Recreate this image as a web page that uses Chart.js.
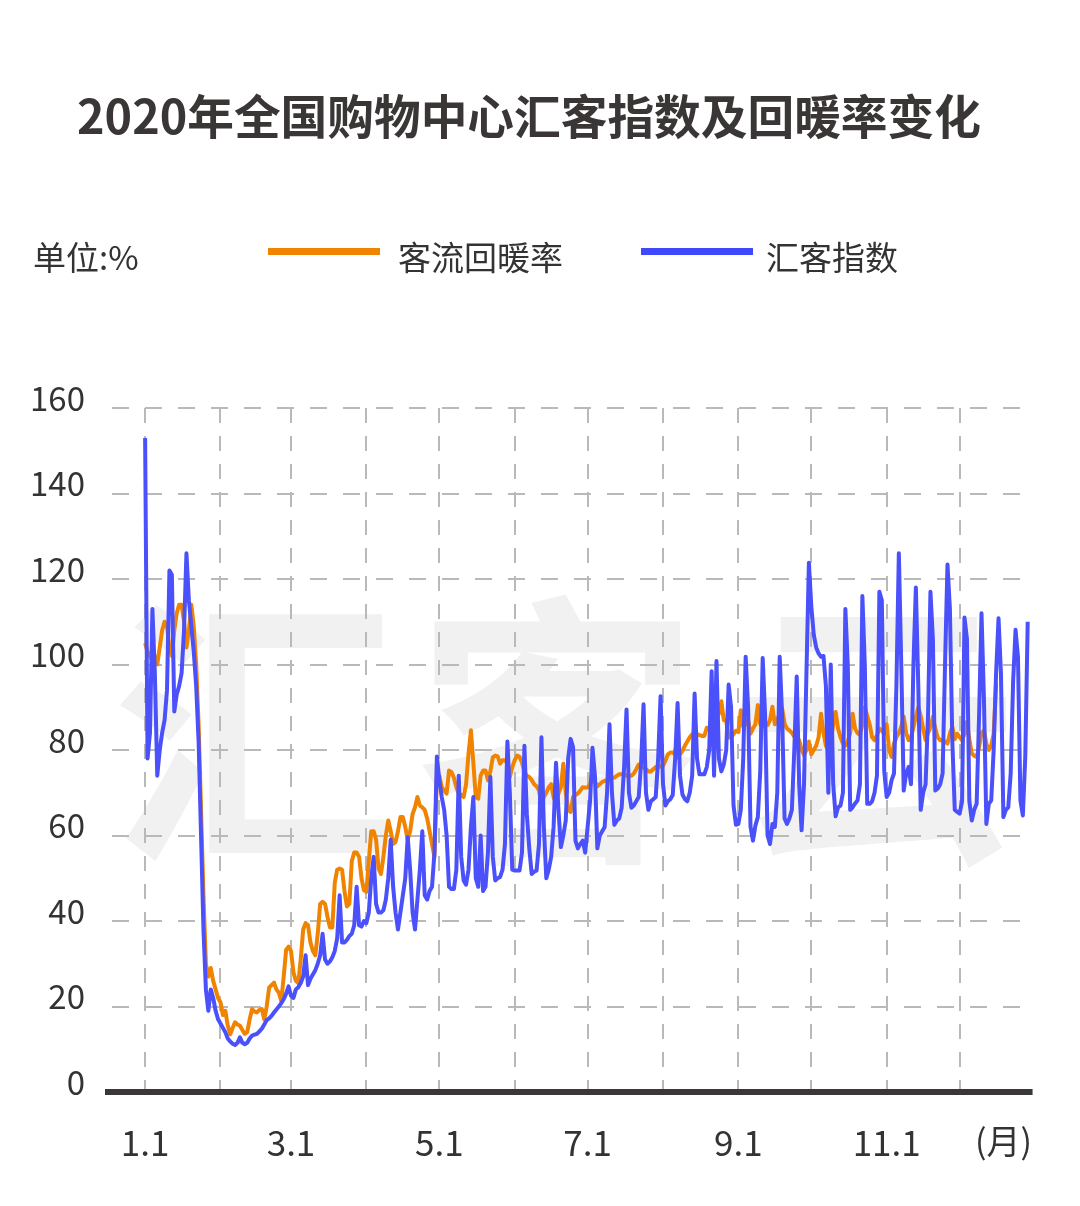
<!DOCTYPE html>
<html>
<head>
<meta charset="utf-8">
<script src="https://cdn.jsdelivr.net/npm/chart.js@4.4.1/dist/chart.umd.min.js"></script>
<style>
html, body { margin: 0; padding: 0; background: #fff; }
#wrap { position: relative; width: 1080px; height: 1206px; overflow: hidden;
        font-family: "Noto Sans CJK SC", "Noto Sans", sans-serif; color: #333; }
#c { position: absolute; left: 0; top: 0; }
.t { position: absolute; white-space: nowrap; }
#title { left: 0; width: 1058px; top: 85px; text-align: center; font-size: 46.7px;
         font-weight: bold; color: #3b3636; line-height: 58px; }
.lg { font-size: 33px; line-height: 40px; top: 236px; color: #333; }
.bar { position: absolute; top: 248px; width: 112px; height: 7px; }
#month { left: 975px; top: 1119px; font-size: 34px; line-height: 42px; color: #333; }
</style>
</head>
<body>
<div id="wrap">
  <canvas id="c" width="1080" height="1206"></canvas>
  <div class="t" id="title">2020年全国购物中心汇客指数及回暖率变化</div>
  <div class="t lg" style="left:33px">单位:%</div>
  <div class="bar" style="left:268px;background:#f08300"></div>
  <div class="t lg" style="left:398px">客流回暖率</div>
  <div class="bar" style="left:641px;background:#4048fc"></div>
  <div class="t lg" style="left:766px">汇客指数</div>
  <div class="t" id="month">(月)</div>
</div>
<script>
// 汇客指数, daily from 1.1
var huikeJan = [153, 78, 84, 113, 98, 74, 80, 84, 87, 94, 122, 121, 89, 93, 95, 98, 108, 126, 115, 109, 103, 95, 82, 60, 38, 24, 19, 24, 22, 19, 17];
var huikeFeb = [16, 15, 14, 12.5, 11.8, 11.3, 11, 11.5, 12.8, 11.5, 11.2, 11.5, 12.5, 13.2, 13.4, 13.6, 14.2, 14.8, 15.8, 16.8, 17.2, 17.8, 18.6, 19.3, 20, 20.8, 21.7, 23, 24.7];
var huikeMar = [22.5, 22, 24, 24.5, 25.5, 27, 32, 25, 26.5, 27.5, 28.5, 30, 32, 37, 31, 30, 30.5, 31.5, 33, 36, 46, 35, 35, 35.6, 36.5, 37, 39, 48, 39, 38.7, 40];
var huikeApr = [39.5, 42, 50, 55, 44, 42, 42, 42.5, 45, 50, 59, 48, 42, 38, 42, 46, 50, 59.6, 52, 42, 38, 45, 52, 61, 46, 45, 47, 48, 56, 78.5];
var huikeMay = [73, 69, 66, 60, 48, 47.5, 47.5, 52, 74, 55, 49.5, 48.5, 52, 62, 69, 50, 48, 60, 47, 48, 56, 73.7, 55, 49.5, 50, 50.3, 52, 58, 82, 70, 52];
var huikeJun = [51.8, 51.8, 51.8, 56, 81, 65, 57, 51, 51.5, 51.8, 58, 83, 62, 50, 52, 55, 62, 77, 66, 57.3, 60, 63.5, 78, 82.6, 80.7, 58.8, 57, 58, 58.8, 56];
var huikeJul = [62, 68, 80.5, 74, 57, 60, 61, 62, 70, 86, 70, 62.5, 63.5, 64, 66.5, 76, 89.5, 70, 66.5, 67, 68, 69, 77, 90.7, 70, 66, 68, 68.5, 69, 78, 92.6];
var huikeAug = [72, 67, 68, 68.5, 69.5, 78, 91, 74, 69.6, 68.5, 68, 70, 74, 93.2, 78, 74.3, 74.3, 74.3, 76, 80, 98.4, 74, 100.8, 78, 75, 76.6, 80, 95.3, 90, 67, 62.5];
var huikeSep = [62.7, 66, 78, 101.8, 90, 62, 58.8, 62.3, 64.3, 75, 101.5, 88, 60, 58, 62.7, 62, 70, 101.8, 88, 64, 62.7, 64, 66, 80, 97.2, 72, 61.2, 72, 98, 123.8];
var huikeOct = [113.6, 107, 104, 102.6, 101.8, 102, 95, 70, 100, 72, 64.5, 66.6, 67, 70, 113, 100, 66, 66.6, 67.5, 68.2, 72, 116, 100, 67.4, 67.4, 68, 70, 74, 117, 115, 75];
var huikeNov = [69, 70, 72.9, 74.5, 95, 126, 100, 70.5, 74.5, 76, 72, 100, 118, 95, 66, 70, 72, 88, 117, 106, 70.5, 71, 72, 74.5, 100, 123.4, 113, 82, 66, 65.5];
var huikeDec = [65.1, 68, 111, 106, 68, 63.5, 66, 67.4, 88, 112, 92, 62.7, 67.4, 68.2, 80, 98, 110.8, 97.9, 64.3, 66, 66.6, 74.5, 96, 108.1, 101.8, 68.2, 64.7, 78.4, 110];

// 客流回暖率, daily from 1.1
var rateJan = [105, 103, 102, 101, 102, 100, 104, 108, 110, 109, 104, 102, 108, 112, 114, 114, 110, 104, 108, 114, 109, 100, 86, 66, 46, 30, 27, 29, 26, 24, 22];
var rateFeb = [21, 18, 19, 15.5, 13.5, 15, 16.3, 15.8, 15.5, 14.5, 13.6, 14, 17, 19.4, 18.8, 18.6, 19.2, 19.4, 17, 20, 24.4, 25, 25.6, 24, 23.3, 21.3, 27, 33.3, 34];
var rateMar = [33, 28, 26, 25.5, 31, 38, 39.5, 39, 35, 33, 32, 37, 44, 44.5, 44, 41, 38.5, 38.5, 49, 52, 52.3, 52, 47, 43.4, 44, 54, 56, 56, 55, 50, 47.2];
var rateApr = [46.8, 54, 61, 61, 59, 52.3, 51, 55, 60, 63.5, 61, 58, 58.5, 61, 64.3, 64.3, 62, 59, 61, 65, 66.6, 69, 67, 66.6, 66, 64, 61, 58, 55, 74];
var rateMay = [74, 71.3, 70.5, 69.8, 75.2, 74.8, 73.5, 71.3, 69.8, 69.5, 69, 72, 79, 84.6, 77, 69, 68.6, 74, 75.2, 75.2, 72.9, 75, 78.3, 78.7, 78.5, 76.8, 77.6, 77.6, 77, 73.7, 76];
var rateJun = [77.6, 78.7, 78.4, 77, 74.8, 74, 73.7, 73, 72, 71.5, 70.5, 67.4, 69, 70, 71.3, 72, 69, 67.4, 69.8, 71.3, 76.8, 70, 66, 65.5, 69, 69.5, 69.8, 70.5, 71.3, 71.2];
var rateJul = [71.2, 72, 73.5, 72.5, 71.5, 72, 72.5, 72.8, 73, 73.5, 73.5, 73.5, 74, 74.3, 74.3, 74.3, 74, 74, 74, 74.5, 75.5, 76.6, 76.3, 75.9, 75.5, 75, 75, 75.5, 76, 76, 76.2];
var rateAug = [76.3, 77.5, 79, 79.4, 79.4, 79, 78.2, 79, 79.8, 81, 82, 83, 83.7, 83.7, 83.7, 83.5, 83.3, 83.3, 85.2, 85, 85, 86, 87, 88.5, 91.4, 87, 86.8, 82.9, 83, 83.7, 84.5];
var rateSep = [84.2, 89.3, 85.4, 86, 87, 83.8, 85, 86, 90.5, 86, 85.6, 86.2, 85.8, 87, 90.1, 86, 87, 88.5, 89.7, 86.2, 85, 84.6, 84, 83.1, 82.7, 82.3, 80, 78.8, 80, 82];
var rateOct = [79, 80, 81, 83, 88.5, 84, 81, 80, 82, 86, 88.9, 85, 83, 81.5, 81, 82, 84, 88.5, 85, 84, 83.5, 86, 90, 88, 86, 83, 82.3, 83.5, 85, 84.5, 83.8];
var rateNov = [86, 80, 78.4, 81.5, 83, 84, 85.5, 87.8, 84, 82.3, 83, 85.4, 87.8, 90, 88, 85, 82.3, 84, 85.4, 87.8, 85, 83, 82.3, 82.3, 82, 81.5, 84, 85.4, 82.5, 83.8];
var rateDec = [83, 82.3, 83.8, 86.6, 82.5, 79.2, 78.6, 78.4, 80.7, 84, 84.6, 81.5, 80, 81, 83.8, 95.6];

// x axis: day of year where each month starts, and the labels under them
var monthStarts = [0, 31, 60, 91, 121, 152, 182, 213, 244, 274, 305, 335];
var monthLabels = ['1.1', '', '3.1', '', '5.1', '', '7.1', '', '9.1', '', '11.1', ''];
var yTicks = [0, 20, 40, 60, 80, 100, 120, 140, 160];

var BLUE = '#4a50fa';
var ORANGE = '#f08300';
var FONT = '"Noto Sans CJK SC", "Noto Sans", sans-serif';

var huike = [].concat(huikeJan, huikeFeb, huikeMar, huikeApr, huikeMay, huikeJun,
                      huikeJul, huikeAug, huikeSep, huikeOct, huikeNov, huikeDec);
var rate = [].concat(rateJan, rateFeb, rateMar, rateApr, rateMay, rateJun,
                     rateJul, rateAug, rateSep, rateOct, rateNov, rateDec);

function toPoints(arr) {
    return arr.map(function (v, i) { return { x: i, y: v }; });
}

// light 汇客云 mark behind the grid
var watermark = {
    id: 'watermark',
    beforeDraw: function (chart) {
        var ctx = chart.ctx;
        ctx.save();
        ctx.fillStyle = '#f1f1f1';
        ctx.font = 'bold 285px ' + FONT;
        ctx.textAlign = 'center';
        ctx.textBaseline = 'middle';
        ctx.fillText('汇', 255, 732);
        ctx.fillText('客', 557, 732);
        ctx.fillText('云', 877, 732);
        ctx.restore();
    }
};

// thick dark base line at 0
var baseLine = {
    id: 'baseLine',
    afterDatasetsDraw: function (chart) {
        var ctx = chart.ctx;
        var y = chart.scales.y.getPixelForValue(0);
        ctx.save();
        ctx.strokeStyle = '#3b3737';
        ctx.lineWidth = 6;
        ctx.beginPath();
        ctx.moveTo(chart.chartArea.left, y);
        ctx.lineTo(chart.scales.x.getPixelForValue(365), y);
        ctx.stroke();
        ctx.restore();
    }
};

var ctx = document.getElementById('c').getContext('2d');
new Chart(ctx, {
    type: 'line',
    data: {
        datasets: [{
            label: '汇客指数',
            data: toPoints(huike),
            borderColor: BLUE,
            borderWidth: 4,
            pointRadius: 0,
            tension: 0,
            borderJoinStyle: 'round'
        }, {
            label: '客流回暖率',
            data: toPoints(rate),
            borderColor: ORANGE,
            borderWidth: 4,
            pointRadius: 0,
            tension: 0,
            borderJoinStyle: 'round'
        }]
    },
    options: {
        responsive: false,
        animation: false,
        layout: { padding: { left: 0, right: 45, top: 408, bottom: 44 } },
        plugins: { legend: { display: false }, tooltip: { enabled: false } },
        scales: {
            x: {
                type: 'linear',
                min: -16.5,
                max: 366,
                afterBuildTicks: function (s) {
                    s.ticks = monthStarts.map(function (v) { return { value: v }; });
                },
                afterFit: function (s) { s.height = 70; },
                grid: { color: '#b9b9b9', lineWidth: 2, drawTicks: false },
                border: { display: false, dash: [15, 13] },
                ticks: {
                    autoSkip: false,
                    maxRotation: 0,
                    padding: 30,
                    color: '#333',
                    font: { size: 35, family: FONT },
                    callback: function (v, i) { return monthLabels[i]; }
                }
            },
            y: {
                min: 0,
                max: 160,
                afterBuildTicks: function (s) {
                    s.ticks = yTicks.map(function (v) { return { value: v }; });
                },
                afterFit: function (s) { s.width = 105; },
                grid: {
                    color: function (c) { return c.tick && c.tick.value === 0 ? 'rgba(0,0,0,0)' : '#b9b9b9'; },
                    lineWidth: 2,
                    drawTicks: false
                },
                border: { display: false, dash: [17, 16], dashOffset: 26 },
                ticks: {
                    padding: 20,
                    labelOffset: -10,
                    color: '#333',
                    font: { size: 33, family: FONT }
                }
            }
        }
    },
    plugins: [watermark, baseLine]
});
</script>
</body>
</html>
